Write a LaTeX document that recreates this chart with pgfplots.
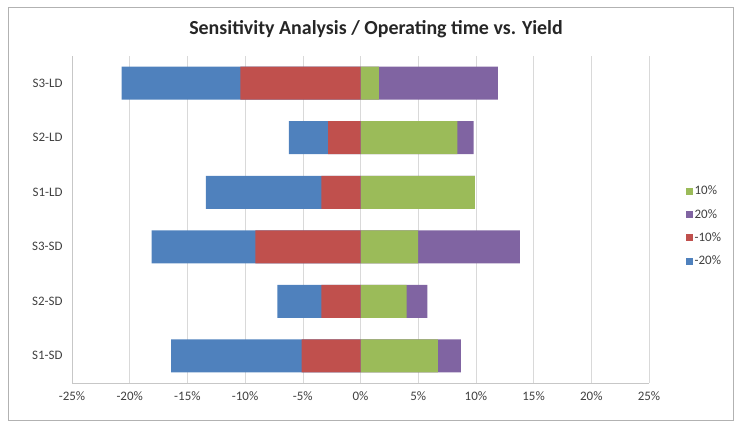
\documentclass[border=0pt]{standalone}
\usepackage{pgfplots}
\pgfplotsset{compat=1.18}
\usepackage{fontspec}
\setmainfont{Carlito}
\definecolor{xblue}{HTML}{4F81BD}
\definecolor{xred}{HTML}{C0504D}
\definecolor{xgreen}{HTML}{9BBB59}
\definecolor{xpurple}{HTML}{8064A2}
\definecolor{gridc}{HTML}{D9D9D9}
\definecolor{txt}{HTML}{404040}
\begin{document}
\begin{tikzpicture}[x=1bp,y=1bp]
\useasboundingbox (0,0) rectangle (734,423);
\draw[color=gray!60, line width=0.8bp] (8,3) rectangle (733,416);
\node[font=\fontsize{20}{23}\selectfont\bfseries, text=black!85] at (376,394) {Sensitivity Analysis / Operating time vs. Yield};
\begin{axis}[
  at={(72bp,40bp)}, anchor=south west,
  width=577bp, height=327bp, scale only axis,
  xbar, bar shift=0pt, bar width=33bp,
  xmin=-25, xmax=25, ymin=-0.5, ymax=5.5,
  xtick={-25,-20,...,25},
  xticklabel={\pgfmathprintnumber{\tick}\%},
  /pgf/number format/assume math mode=true,
  ytick={0,1,2,3,4,5},
  yticklabels={S1-SD,S2-SD,S3-SD,S1-LD,S2-LD,S3-LD},
  xmajorgrids, grid style={gridc, line width=0.6bp},
  axis line style={gridc!80!gray, line width=0.6bp},
  axis x line*=bottom, axis y line*=left,
  major tick length=0pt,
  tick label style={font=\fontsize{13}{15}\selectfont, text=txt},
  xticklabel style={yshift=-5bp},
  yticklabel style={xshift=-6bp},
  legend style={at={(1.058,0.48)}, anchor=west, draw=none, fill=none,
    font=\fontsize{13}{15}\selectfont, text=txt, row sep=9bp,
    legend cell align=left},
  legend image code/.code={\fill[#1] (0bp,-3.5bp) rectangle (7bp,3.5bp);},
  clip=false,
]
\addlegendimage{fill=xgreen, draw=none}
\addlegendentry{10\%}
\addlegendimage{fill=xpurple, draw=none}
\addlegendentry{20\%}
\addlegendimage{fill=xred, draw=none}
\addlegendentry{-10\%}
\addlegendimage{fill=xblue, draw=none}
\addlegendentry{-20\%}
% cumulative ends: +10% then +20% (drawn longest first)
\addplot[fill=xpurple, draw=none, forget plot] coordinates {(8.7,0) (5.8,1) (13.8,2) (9.9,3) (9.8,4) (11.9,5)};
\addplot[fill=xgreen, draw=none, forget plot] coordinates {(6.7,0) (4.0,1) (5.0,2) (9.9,3) (8.4,4) (1.6,5)};
\addplot[fill=xblue, draw=none, forget plot] coordinates {(-16.4,0) (-7.2,1) (-18.1,2) (-13.4,3) (-6.2,4) (-20.7,5)};
\addplot[fill=xred, draw=none, forget plot] coordinates {(-5.1,0) (-3.4,1) (-9.1,2) (-3.4,3) (-2.8,4) (-10.4,5)};
\end{axis}
\end{tikzpicture}
\end{document}
